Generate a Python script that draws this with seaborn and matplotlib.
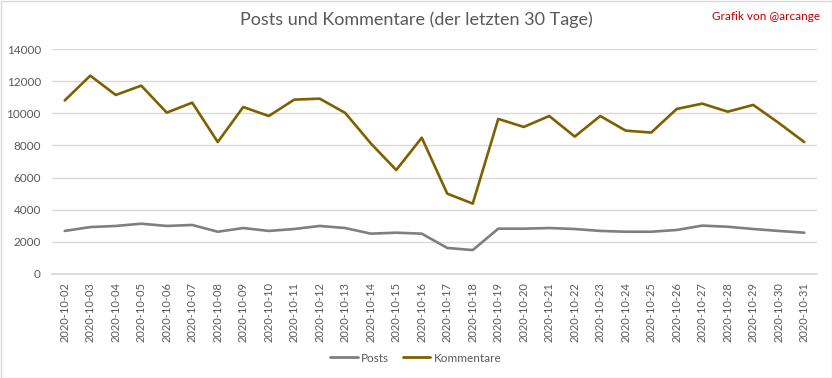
import matplotlib
matplotlib.use("Agg")
import matplotlib.pyplot as plt
import seaborn as sns
import pandas as pd
from matplotlib.patches import Rectangle
from matplotlib.lines import Line2D

dates = ["2020-10-%02d" % d for d in range(2, 32)]
posts = [2680, 2920, 2990, 3130, 2990, 3050, 2630, 2860, 2680, 2800,
         2990, 2860, 2510, 2570, 2510, 1620, 1490, 2820, 2820, 2860,
         2800, 2680, 2630, 2630, 2740, 3010, 2940, 2800, 2680, 2570]
kommentare = [10800, 12340, 11140, 11720, 10040, 10660, 8210, 10390, 9830, 10850,
              10910, 10020, 8130, 6470, 8480, 5000, 4380, 9650, 9150, 9830,
              8550, 9830, 8920, 8800, 10270, 10600, 10100, 10520, 9400, 8210]
yticks = [0, 2000, 4000, 6000, 8000, 10000, 12000, 14000]

df = pd.DataFrame({
    "Datum": dates * 2,
    "Wert": posts + kommentare,
    "Serie": ["Posts"] * len(dates) + ["Kommentare"] * len(dates),
})
df["x"] = list(range(len(dates))) * 2

sns.set_theme(style="white")
plt.rcParams["font.family"] = ["Lato", "DejaVu Sans"]

fig = plt.figure(figsize=(8.32, 3.78), dpi=100)
ax = fig.add_axes([52 / 832, 1 - 274 / 378, (817 - 52) / 832, (274 - 49) / 378])

sns.lineplot(data=df, x="x", y="Wert", hue="Serie",
             palette={"Posts": "#7F7F7F", "Kommentare": "#7F6000"},
             linewidth=1.9, ax=ax, legend=False)

ax.set_xlim(-0.5, len(dates) - 0.5)
ax.set_ylim(0, 14000)
ax.set_yticks(yticks)
ax.set_yticklabels([str(v) for v in yticks])
ax.set_xticks(range(len(dates)))
ax.set_xticklabels(dates, rotation=90)
ax.tick_params(axis="x", labelsize=8, colors="#595959", length=0, pad=6)
ax.tick_params(axis="y", labelsize=8.5, colors="#595959", length=0, pad=8)
ax.grid(axis="y", color="#D9D9D9", linewidth=1)
ax.set_axisbelow(True)
for s in ["top", "right", "left"]:
    ax.spines[s].set_visible(False)
ax.spines["bottom"].set_color("#D9D9D9")
ax.set_xlabel("")
ax.set_ylabel("")

fig.text(0.5, 1 - 20 / 378, "Posts und Kommentare (der letzten 30 Tage)",
         ha="center", va="center", fontsize=13, color="#595959")
fig.text(1 - 12 / 832, 1 - 16 / 378, "Grafik von @arcange",
         ha="right", va="center", fontsize=8.5, color="#C00000")

handles = [Line2D([], [], color="#7F7F7F", lw=2), Line2D([], [], color="#7F6000", lw=2)]
fig.legend(handles, ["Posts", "Kommentare"], loc="center",
           bbox_to_anchor=(0.5, 1 - 358 / 378), ncol=2, frameon=False,
           fontsize=8.5, labelcolor="#595959", handlelength=2.3,
           columnspacing=1.2, handletextpad=0.3)

fig.patches.append(Rectangle((0.5 / 832, 0.5 / 378), 1 - 1 / 832, 1 - 1 / 378,
                             transform=fig.transFigure, fill=False,
                             edgecolor="#D9D9D9", linewidth=1))

fig.savefig("out.png", dpi=100)
